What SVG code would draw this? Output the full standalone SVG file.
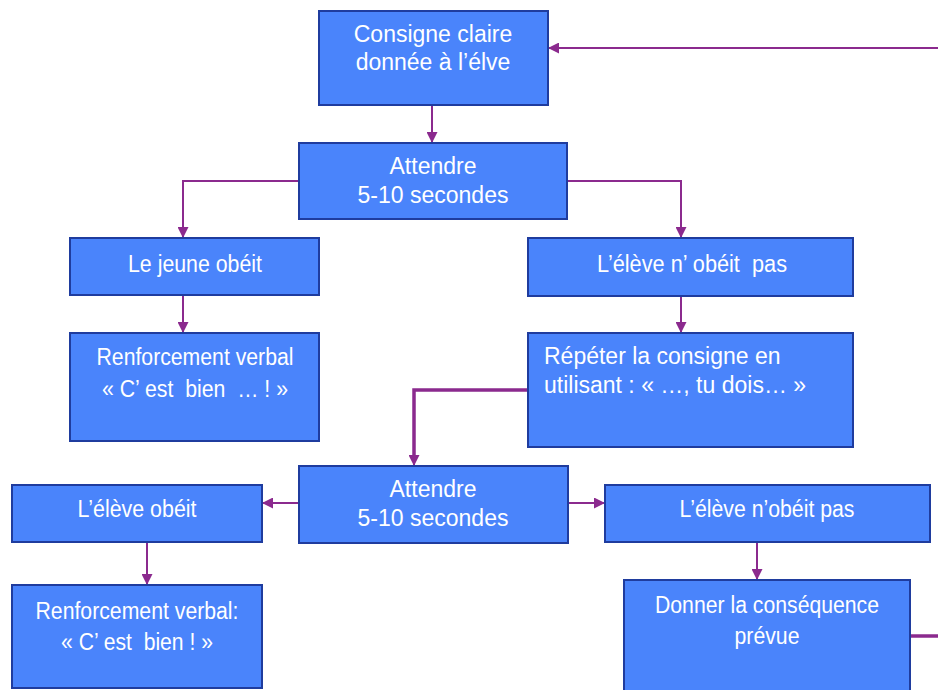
<svg xmlns="http://www.w3.org/2000/svg" width="938" height="690" viewBox="0 0 938 690">
<defs>
<marker id="ah" markerWidth="11" markerHeight="11" refX="11" refY="5.5" orient="auto" markerUnits="userSpaceOnUse">
<path d="M0,0 L11,5.5 L0,11 Z" fill="#8B2A8E"/>
</marker>
<style>
.box{fill:#4A84FB;stroke:#1F3C9E;stroke-width:2}
.t{font-family:"Liberation Sans",Arial,sans-serif;font-size:23px;fill:#FFFFFF;text-anchor:middle;white-space:pre}
.l{text-anchor:start}
.c{fill:none;stroke:#8B2A8E;stroke-width:2}
.k{stroke-width:3.5}
</style>
</defs>
<rect width="938" height="690" fill="#FFFFFF"/>
<g id="connectors">
<path class="c" d="M938,48 L548,48" marker-end="url(#ah)"/>
<path class="c" d="M432,105 L432,143" marker-end="url(#ah)"/>
<path class="c" d="M299,181 L183,181 L183,238" marker-end="url(#ah)"/>
<path class="c" d="M567,181 L681,181 L681,238" marker-end="url(#ah)"/>
<path class="c" d="M183,295 L183,333" marker-end="url(#ah)"/>
<path class="c" d="M681,296 L681,333" marker-end="url(#ah)"/>
<path class="c k" d="M528,390 L414,390 L414,456"/>
<path class="c" d="M414,455 L414,466" marker-end="url(#ah)"/>
<path class="c" d="M299,503 L262,503" marker-end="url(#ah)"/>
<path class="c" d="M568,503 L605,503" marker-end="url(#ah)"/>
<path class="c" d="M147,542 L147,585" marker-end="url(#ah)"/>
<path class="c" d="M757,542 L757,580" marker-end="url(#ah)"/>
<path class="c k" d="M910,636 L938,636"/>
</g>
<g id="n1"><rect class="box" x="319" y="11" width="229" height="94"/>
<text class="t" x="433" y="42">Consigne claire</text><text class="t" x="433" y="70">donnée à l’élve</text></g>
<g id="n2"><rect class="box" x="299" y="143" width="268" height="76"/>
<text class="t" x="433" y="174">Attendre</text><text class="t" x="433" y="203">5-10 secondes</text></g>
<g id="n3"><rect class="box" x="70" y="238" width="249" height="57"/>
<text class="t" x="195" y="272" textLength="134" lengthAdjust="spacingAndGlyphs">Le jeune obéit</text></g>
<g id="n4"><rect class="box" x="528" y="238" width="325" height="58"/>
<text class="t" x="692" y="272" textLength="190" lengthAdjust="spacingAndGlyphs">L’élève n’ obéit  pas</text></g>
<g id="n5"><rect class="box" x="70" y="333" width="249" height="108"/>
<text class="t" x="195" y="365" textLength="197" lengthAdjust="spacingAndGlyphs">Renforcement verbal</text><text class="t" x="195" y="397" textLength="186" lengthAdjust="spacingAndGlyphs">« C’ est  bien  … ! »</text></g>
<g id="n6"><rect class="box" x="528" y="333" width="325" height="114"/>
<text class="t l" x="544" y="364">Répéter la consigne en</text><text class="t l" x="544" y="393">utilisant : « …, tu dois… »</text></g>
<g id="n7"><rect class="box" x="299" y="466" width="269" height="77"/>
<text class="t" x="433" y="497">Attendre</text><text class="t" x="433" y="526">5-10 secondes</text></g>
<g id="n8"><rect class="box" x="12" y="485" width="250" height="57"/>
<text class="t" x="137" y="517" textLength="119" lengthAdjust="spacingAndGlyphs">L’élève obéit</text></g>
<g id="n9"><rect class="box" x="605" y="485" width="325" height="57"/>
<text class="t" x="767" y="517" textLength="175" lengthAdjust="spacingAndGlyphs">L’élève n’obéit pas</text></g>
<g id="n10"><rect class="box" x="12" y="585" width="250" height="103"/>
<text class="t" x="137" y="619" textLength="203" lengthAdjust="spacingAndGlyphs">Renforcement verbal:</text><text class="t" x="137" y="650" textLength="152" lengthAdjust="spacingAndGlyphs">« C’ est  bien ! »</text></g>
<g id="n11"><rect class="box" x="624" y="580" width="286" height="112"/>
<text class="t" x="767" y="613" textLength="224" lengthAdjust="spacingAndGlyphs">Donner la conséquence</text><text class="t" x="767" y="644" textLength="65" lengthAdjust="spacingAndGlyphs">prévue</text></g>
</svg>
